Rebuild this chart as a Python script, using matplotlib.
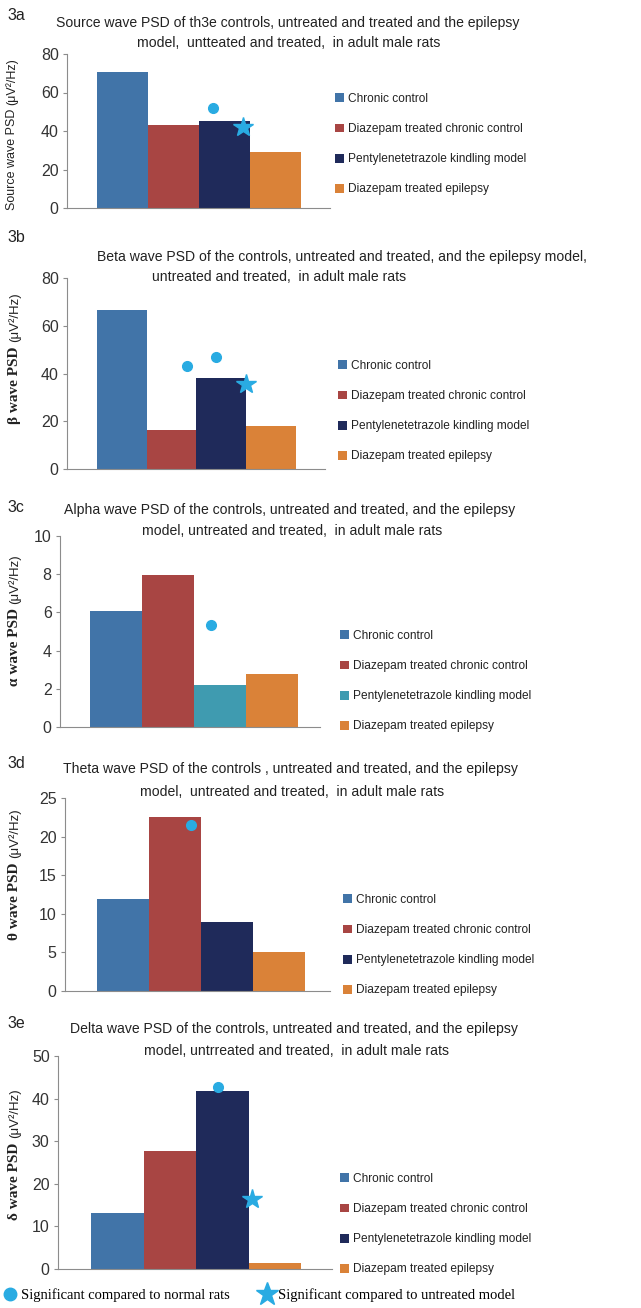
import matplotlib
matplotlib.use("Agg")
import matplotlib.pyplot as plt
from matplotlib.lines import Line2D

W, H = 641, 1308

groups = ["Chronic control", "Diazepam treated chronic control",
          "Pentylenetetrazole kindling model", "Diazepam treated epilepsy"]

panel_tags = ["3a", "3b", "3c", "3d", "3e"]

titles = [
    ["Source wave PSD of th3e controls, untreated and treated and the epilepsy",
     "model,  untteated and treated,  in adult male rats"],
    ["Beta wave PSD of the controls, untreated and treated, and the epilepsy model,",
     "untreated and treated,  in adult male rats"],
    ["Alpha wave PSD of the controls, untreated and treated, and the epilepsy",
     "model, untreated and treated,  in adult male rats"],
    ["Theta wave PSD of the controls , untreated and treated, and the epilepsy",
     "model,  untreated and treated,  in adult male rats"],
    ["Delta wave PSD of the controls, untreated and treated, and the epilepsy",
     "model, untrreated and treated,  in adult male rats"],
]
ylabel_main = ["Source wave PSD", "β wave PSD", "α wave PSD", "θ wave PSD", "δ wave PSD"]
ylabel_unit = "(μV²/Hz)"

source_psd = [70.5, 43.0, 45.0, 29.0]
beta_psd = [66.5, 16.5, 38.3, 18.0]
alpha_psd = [6.05, 7.97, 2.2, 2.78]
theta_psd = [11.9, 22.6, 8.9, 5.0]
delta_psd = [13.2, 27.7, 41.8, 1.5]
panel_values = [source_psd, beta_psd, alpha_psd, theta_psd, delta_psd]

y_max = [80, 80, 10, 25, 50]
y_step = [20, 20, 2, 5, 10]

# significance markers as (bar position, value)
sig_normal = [[(1.78, 52)], [(1.31, 43), (1.89, 46.8)], [(1.83, 5.35)],
              [(1.31, 21.5)], [(1.92, 42.7)]]
sig_untreated = [[(2.37, 42)], [(2.49, 35.5)], [], [], [(2.57, 16.5)]]

legend_bottom = ["Significant compared to normal rats",
                 "Significant compared to untreated model"]

# colours
c_blue = "#4174a8"
c_red = "#a84543"
c_navy = "#1f2a5a"
c_orange = "#da8238"
c_teal = "#3f9bb0"
c_mark = "#29abe2"
panel_colors = [
    [c_blue, c_red, c_navy, c_orange],
    [c_blue, c_red, c_navy, c_orange],
    [c_blue, c_red, c_teal, c_orange],
    [c_blue, c_red, c_navy, c_orange],
    [c_blue, c_red, c_navy, c_orange],
]

# layout in pixels
ax_box = [(67, 330, 54, 208), (67, 325, 278, 469), (60, 320, 536, 727),
          (65, 330, 798, 991), (58, 332, 1056, 1269)]
bar_span = [(97, 301), (97, 296), (90, 298), (97, 305), (91, 301)]
title_y = [(23, 43), (257, 277), (510, 531), (769, 792), (1029, 1051)]
title_x = [(288, 289), (342, 279), (290, 292), (290, 292), (294, 296)]
tag_y = [15, 238, 508, 763, 1023]
legend_row1 = [99, 366, 636, 900, 1179]
legend_x = [335, 338, 340, 343, 340]
ylabel_pos = [(12, 134), (15, 358), (15, 620), (15, 874), (15, 1154)]
label_serif = [False, True, True, True, True]

SANS = ["Liberation Sans", "DejaVu Sans"]
SERIF = ["Liberation Serif", "DejaVu Serif"]
plt.rcParams["font.family"] = SANS


def fx(x):
    return x / W


def fy(y):
    return 1 - y / H


fig = plt.figure(figsize=(W / 100, H / 100), dpi=100)

for i in range(5):
    l, r, t, b = ax_box[i]
    ax = fig.add_axes([fx(l), fy(b), (r - l) / W, (b - t) / H])
    bl, br = bar_span[i]
    bw = (br - bl) / 4
    vals = panel_values[i]
    bars = ax.bar(range(4), vals, width=1.0, color=panel_colors[i], label=groups)
    ax.set_xlim(-0.5 - (bl - l) / bw, 3.5 + (r - br) / bw)
    ax.set_ylim(0, y_max[i])
    ax.set_yticks(range(0, y_max[i] + 1, y_step[i]))
    ax.set_xticks([])
    for s in ["top", "right"]:
        ax.spines[s].set_visible(False)
    for s in ["left", "bottom"]:
        ax.spines[s].set_color("#8c8c8c")
    ax.tick_params(axis="y", direction="out", length=3, color="#8c8c8c",
                   labelsize=11.5, labelcolor="#333333", pad=3)

    for (px, py) in sig_normal[i]:
        ax.plot(px, py, "o", color=c_mark, ms=7, clip_on=False)
    for (px, py) in sig_untreated[i]:
        ax.plot(px, py, "*", color=c_mark, ms=15, clip_on=False)

    leg = ax.legend(bars, groups, loc="upper left",
                    bbox_to_anchor=(fx(legend_x[i]), fy(legend_row1[i] - 6)),
                    bbox_transform=fig.transFigure, frameon=False,
                    fontsize=8.6, borderpad=0, borderaxespad=0,
                    handlelength=0.75, handleheight=0.75, handletextpad=0.3,
                    labelspacing=1.52)
    for txt in leg.get_texts():
        txt.set_color("#222222")

    # titles and panel tag
    for line, yy, xx in zip(titles[i], title_y[i], title_x[i]):
        fig.text(fx(xx), fy(yy), line, ha="center", va="center",
                 fontsize=10.1, color="#222222")
    fig.text(fx(7), fy(tag_y[i]), panel_tags[i], ha="left", va="center",
             fontsize=11.5, color="#222222")

# y labels made of two fonts
fig.canvas.draw()
rend = fig.canvas.get_renderer()
for i in range(5):
    x, cy = ylabel_pos[i]
    if label_serif[i]:
        t1 = fig.text(fx(x), 0, ylabel_main[i], rotation=90, ha="center", va="bottom",
                      family=SERIF, weight="bold", fontsize=11, color="#222222")
        unit_size = 9.5
    else:
        t1 = fig.text(fx(x), 0, ylabel_main[i], rotation=90, ha="center", va="bottom",
                      fontsize=9, color="#222222")
        unit_size = 9
    t2 = fig.text(fx(x), 0, ylabel_unit, rotation=90, ha="center", va="bottom",
                  fontsize=unit_size, color="#222222")
    h1 = t1.get_window_extent(rend).height
    h2 = t2.get_window_extent(rend).height
    gap = 4
    start = (H - cy) - (h1 + gap + h2) / 2
    t1.set_position((fx(x), start / H))
    t2.set_position((fx(x), (start + h1 + gap) / H))

# bottom significance legend
handles = [Line2D([], [], marker="o", ls="none", color=c_mark, ms=9),
           Line2D([], [], marker="*", ls="none", color=c_mark, ms=17)]
fig.legend(handles, legend_bottom, loc="center left",
           bbox_to_anchor=(fx(4), fy(1295)), frameon=False, ncol=2,
           prop={"family": SERIF, "size": 10.5}, borderpad=0, borderaxespad=0,
           handlelength=0.8, handletextpad=0.35, columnspacing=2.15)

fig.savefig("out.png", dpi=100)
